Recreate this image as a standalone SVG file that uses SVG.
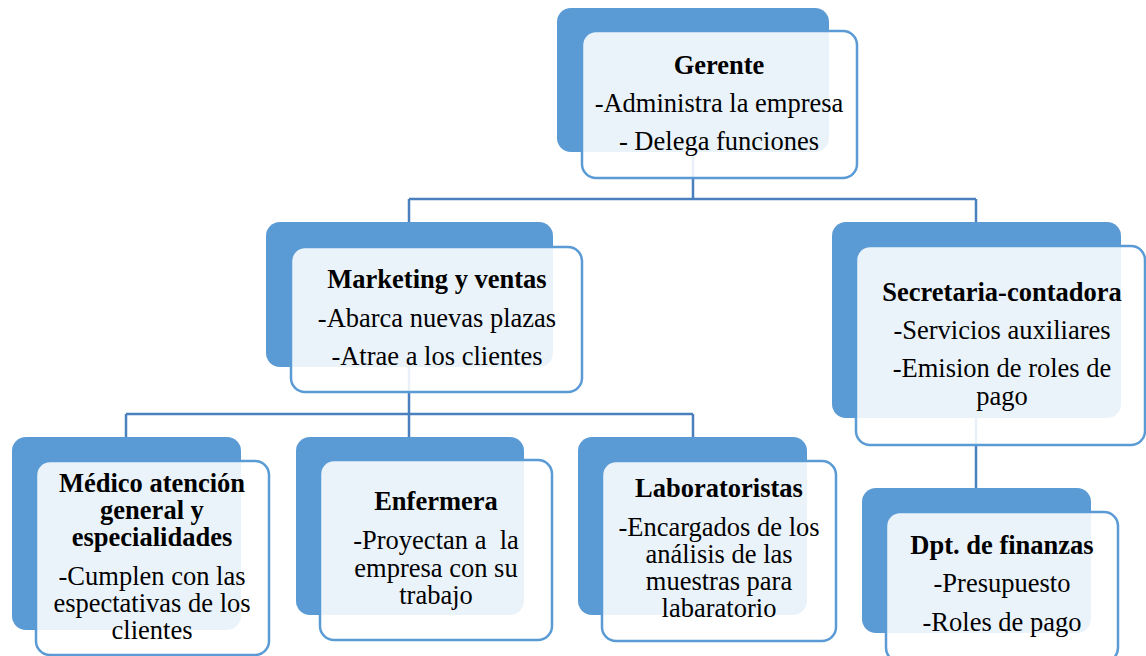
<svg xmlns="http://www.w3.org/2000/svg" width="1146" height="656" viewBox="0 0 1146 656">
<style>
.back{fill:#5B9BD5;}
.front{fill:#FFFFFF;fill-opacity:0.88;stroke:#5B9BD5;stroke-width:2.5;}
.conn{fill:none;stroke:#4A80BD;stroke-width:2.5;}
text{font-family:'Liberation Serif','Times New Roman',serif;font-size:26.5px;fill:#000;text-anchor:middle;}
text.b{font-weight:bold;}
</style>
<rect width="1146" height="656" fill="#FFFFFF"/>
<g id="connectors">
<path class="conn" d="M693,152 V199 M409,199 H976 M409,199 V222 M976,199 V222"/>
<path class="conn" d="M409,367 V414 M126,414 H693 M126,414 V437 M409,414 V437 M693,414 V437"/>
<path class="conn" d="M976,418 V488"/>
</g>
<g id="gerente">
<rect class="back" x="557" y="8" width="272" height="144" rx="14"/>
<rect class="front" x="582" y="31" width="275" height="147" rx="14"/>
<text class="b" x="719" y="74">Gerente</text>
<text x="719" y="112">-Administra la empresa</text>
<text x="719" y="150">- Delega funciones</text>
</g>
<g id="marketing">
<rect class="back" x="266" y="222" width="287" height="145" rx="14"/>
<rect class="front" x="291" y="247" width="291" height="145" rx="14"/>
<text class="b" x="437" y="288">Marketing y ventas</text>
<text x="437" y="327">-Abarca nuevas plazas</text>
<text x="437" y="365">-Atrae a los clientes</text>
</g>
<g id="secretaria">
<rect class="back" x="832" y="222" width="289" height="196" rx="14"/>
<rect class="front" x="856" y="246" width="289" height="199" rx="14"/>
<text class="b" x="1002" y="301">Secretaria-contadora</text>
<text x="1002" y="339">-Servicios auxiliares</text>
<text x="1002" y="377">-Emision de roles de</text>
<text x="1002" y="405">pago</text>
</g>
<g id="medico">
<rect class="back" x="12" y="437" width="229" height="193" rx="14"/>
<rect class="front" x="36" y="461" width="233" height="194" rx="14"/>
<text class="b" x="152" y="492">Médico atención</text>
<text class="b" x="152" y="519">general y</text>
<text class="b" x="152" y="546">especialidades</text>
<text x="152" y="585">-Cumplen con las</text>
<text x="152" y="612">espectativas de los</text>
<text x="152" y="639">clientes</text>
</g>
<g id="enfermera">
<rect class="back" x="296" y="437" width="228" height="178" rx="14"/>
<rect class="front" x="320" y="460" width="232" height="180" rx="14"/>
<text class="b" x="436" y="510">Enfermera</text>
<text x="436" y="549" xml:space="preserve">-Proyectan a  la</text>
<text x="436" y="577">empresa con su</text>
<text x="436" y="604">trabajo</text>
</g>
<g id="laboratoristas">
<rect class="back" x="578" y="437" width="229" height="178" rx="14"/>
<rect class="front" x="602" y="461" width="234" height="180" rx="14"/>
<text class="b" x="719" y="497">Laboratoristas</text>
<text x="719" y="536">-Encargados de los</text>
<text x="719" y="563">análisis de las</text>
<text x="719" y="590">muestras para</text>
<text x="719" y="617">labaratorio</text>
</g>
<g id="finanzas">
<rect class="back" x="862" y="488" width="229" height="145" rx="14"/>
<rect class="front" x="886" y="512" width="232" height="150" rx="14"/>
<text class="b" x="1002" y="554">Dpt. de finanzas</text>
<text x="1002" y="592">-Presupuesto</text>
<text x="1002" y="631">-Roles de pago</text>
</g>
</svg>
